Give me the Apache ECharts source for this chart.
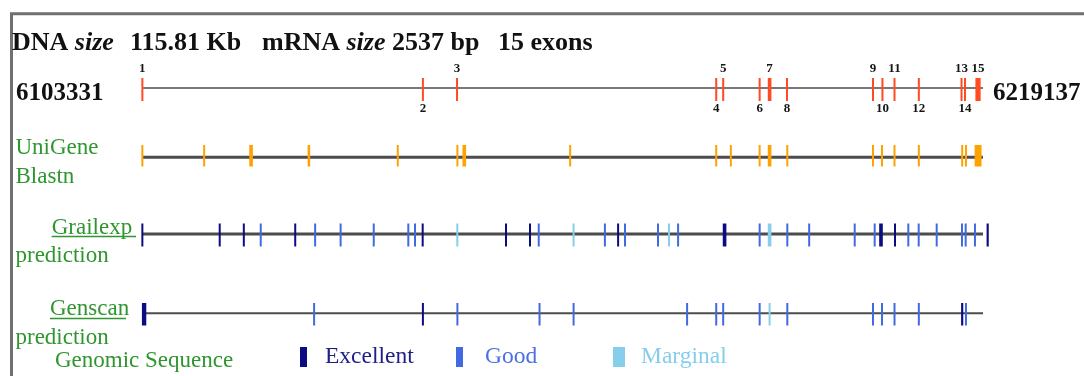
<!DOCTYPE html>
<html><head><meta charset="utf-8">
<script src="https://cdn.jsdelivr.net/npm/echarts@6/dist/echarts.min.js"></script>
<style>html,body{margin:0;padding:0;background:#fff;overflow:hidden}#c{width:1084px;height:376px}</style>
</head><body><div id="c"></div>
<script>
// ---- data (positions in kb from gene start, lengths in kb) ----
const geneStart = 6103331;
const geneEnd = 6219137;
const mrnaSizeBp = 2537;

const exonPos = [0.05, 38.68, 43.38, 79.07, 80.03, 85.05, 86.42, 88.82, 100.66, 101.96, 103.62, 106.97, 112.85, 113.33, 115.12];
const exonLen = [0.15, 0.15, 0.15, 0.15, 0.15, 0.15, 0.5, 0.15, 0.15, 0.15, 0.15, 0.15, 0.15, 0.15, 0.72];

const unigenePos = [0.05, 8.56, 15.02, 22.98, 35.22, 43.43, 44.38, 58.96, 79.07, 81.08, 85.05, 86.42, 88.86, 100.66, 101.90, 103.62, 106.97, 112.94, 113.46, 115.13];
const unigeneLen = [0.15, 0.15, 0.5, 0.35, 0.15, 0.15, 0.5, 0.15, 0.15, 0.15, 0.15, 0.5, 0.15, 0.15, 0.15, 0.15, 0.15, 0.15, 0.15, 0.95];

const grailPos = [0.05, 10.70, 14.02, 16.35, 21.10, 23.84, 27.35, 31.91, 36.67, 37.59, 38.65, 43.42, 50.12, 53.43, 54.63, 59.43, 63.74, 65.56, 66.51, 71.05, 72.57, 73.82, 80.22, 85.05, 86.42, 88.86, 91.87, 98.14, 100.89, 101.76, 103.69, 105.52, 106.95, 109.43, 112.91, 113.42, 114.70, 116.45];
const grailLen = [0.2, 0.15, 0.15, 0.15, 0.15, 0.15, 0.15, 0.15, 0.15, 0.15, 0.15, 0.15, 0.15, 0.15, 0.15, 0.15, 0.15, 0.15, 0.15, 0.15, 0.15, 0.15, 0.5, 0.15, 0.5, 0.15, 0.15, 0.15, 0.15, 0.5, 0.15, 0.15, 0.15, 0.15, 0.15, 0.15, 0.15, 0.3];
const grailQual = ['E','E','E','G','E','G','G','G','G','G','E','M','E','E','G','M','G','E','G','G','M','G','E','G','M','G','G','G','G','E','E','G','G','G','G','G','G','E'];

const genscanPos = [0.29, 23.70, 38.68, 43.43, 54.74, 59.43, 75.06, 79.07, 80.03, 85.05, 86.42, 88.86, 100.66, 101.90, 103.62, 106.97, 112.94, 113.46];
const genscanLen = [0.6, 0.15, 0.15, 0.15, 0.15, 0.15, 0.15, 0.15, 0.15, 0.15, 0.15, 0.15, 0.15, 0.15, 0.15, 0.15, 0.3, 0.15];
const genscanQual = ['E','G','E','G','G','G','G','G','G','G','M','G','G','G','G','G','E','G'];

const qualityCodes = ['E', 'G', 'M'];
const qualityNames = ['Excellent', 'Good', 'Marginal'];

// ---- styles ----
const SERIF = "'Liberation Serif', 'Times New Roman', serif";
const GREEN = '#2f962f';
const qualityColors = { E: '#0c0c82', G: '#4169e1', M: '#87ceeb' };
const qualityTextColors = { E: '#1e1e86', G: '#4a6fe2', M: '#86cdec' };
const EXON_COLOR = '#ff4a22';
const UNIGENE_COLOR = '#ffa200';
const LINE_COLOR = '#4c4c4c';

const totalKb = (geneEnd - geneStart) / 1000;

// track rows: tick top, tick height, line position (fraction from bottom), line width
const rows = [
  { top: 78, height: 23, lineFrac: 0.565, lw: 1.6 },
  { top: 145, height: 21.5, lineFrac: 0.43, lw: 3 },
  { top: 223.5, height: 23, lineFrac: 0.54, lw: 3 },
  { top: 303, height: 22.5, lineFrac: 0.54, lw: 2 }
];

const grids = rows.map(r => ({ left: 142, right: 101, top: r.top, height: r.height }));
const xAxes = rows.map((r, i) => ({ type: 'value', gridIndex: i, min: 0, max: totalKb, show: false }));
const yAxes = rows.map((r, i) => ({ type: 'value', gridIndex: i, min: 0, max: 1, show: false }));

function tickRect(api, minW) {
  const c = api.value(0), len = api.value(1);
  const a = api.coord([c - len / 2, 1]);
  const b = api.coord([c + len / 2, 0]);
  const w = Math.max(b[0] - a[0], minW);
  const cx = (a[0] + b[0]) / 2;
  return { x: cx - w / 2, y: a[1], width: w, height: b[1] - a[1], cx: cx, top: a[1], bottom: b[1] };
}

function tickRender(params, api) {
  const r = tickRect(api, 2);
  return { type: 'rect', shape: { x: r.x, y: r.y, width: r.width, height: r.height }, style: { fill: api.visual('color') } };
}

function exonRender(params, api) {
  const r = tickRect(api, 2);
  const num = api.value(2);
  const above = num % 2 === 1;
  return {
    type: 'group',
    children: [
      { type: 'rect', shape: { x: r.x, y: r.y, width: r.width, height: r.height }, style: { fill: api.visual('color') } },
      { type: 'text', x: r.cx, y: above ? r.top - 9 : r.bottom + 8,
        style: { text: String(num), align: 'center', verticalAlign: 'middle', fontFamily: SERIF, fontWeight: 'bold', fontSize: 13, fill: '#151515' } }
    ]
  };
}

function backbone(i) {
  return {
    type: 'line', xAxisIndex: i, yAxisIndex: i, silent: true, symbol: 'none', z: 1,
    data: [[0, rows[i].lineFrac], [totalKb, rows[i].lineFrac]],
    lineStyle: { color: LINE_COLOR, width: rows[i].lw }
  };
}

const series = [];
for (let i = 0; i < 4; i++) series.push(backbone(i));

series.push({
  type: 'custom', name: 'Exons', xAxisIndex: 0, yAxisIndex: 0, z: 3,
  itemStyle: { color: EXON_COLOR }, renderItem: exonRender,
  data: exonPos.map((p, k) => [p, exonLen[k], k + 1])
});
series.push({
  type: 'custom', name: 'UniGene Blastn', xAxisIndex: 1, yAxisIndex: 1, z: 3,
  itemStyle: { color: UNIGENE_COLOR }, renderItem: tickRender,
  data: unigenePos.map((p, k) => [p, unigeneLen[k]])
});

function qualitySeries(pos, len, qual, gi) {
  qualityCodes.forEach((code, qi) => {
    series.push({
      type: 'custom', name: qualityNames[qi], xAxisIndex: gi, yAxisIndex: gi, z: 3,
      itemStyle: { color: qualityColors[code] }, renderItem: tickRender,
      data: pos.map((p, k) => [p, len[k], qual[k]]).filter(d => d[2] === code).map(d => [d[0], d[1]])
    });
  });
}
qualitySeries(grailPos, grailLen, grailQual, 2);
qualitySeries(genscanPos, genscanLen, genscanQual, 3);

const legendLeft = [300, 456, 613];
const legendW = [7, 7, 12];
const legendPad = [13, 17, 11];
const legends = qualityNames.map((n, qi) => ({
  data: [n], left: legendLeft[qi], top: 345, icon: 'rect', selectedMode: false,
  itemWidth: legendW[qi], itemHeight: 20, padding: 0,
  textStyle: { color: qualityTextColors[qualityCodes[qi]], fontFamily: SERIF, fontSize: 23.5, padding: [0, 0, 0, legendPad[qi]] }
}));

function txt(x, y, text, extra) {
  return { type: 'text', x: x, y: y, silent: true,
    style: Object.assign({ text: text, align: 'left', verticalAlign: 'middle', fontFamily: SERIF, fontSize: 23, fill: GREEN }, extra || {}) };
}

const dnaKb = ((geneEnd - geneStart) / 1000).toFixed(2);
const titleRich = {
  b: { fontFamily: SERIF, fontWeight: 'bold', fontSize: 26, fill: '#111' },
  i: { fontFamily: SERIF, fontWeight: 'bold', fontStyle: 'italic', fontSize: 26, fill: '#111' }
};
function titleTxt(x, text) {
  return { type: 'text', x: x, y: 43.5, silent: true,
    style: { text: text, align: 'left', verticalAlign: 'middle', rich: titleRich } };
}

const graphic = [
  { type: 'polyline', silent: true, shape: { points: [[11.5, 400], [11.5, 13.8], [1100, 13.8]] }, style: { stroke: '#707070', lineWidth: 3, fill: null } },
  titleTxt(12, '{b|DNA }{i|size}'),
  titleTxt(130, '{b|' + dnaKb + ' Kb}'),
  titleTxt(262, '{b|mRNA }{i|size}{b| ' + mrnaSizeBp + ' bp}'),
  titleTxt(498, '{b|' + exonPos.length + ' exons}'),
  txt(16, 93.5, String(geneStart), { fontWeight: 'bold', fontSize: 25, fill: '#111' }),
  txt(993, 93.5, String(geneEnd), { fontWeight: 'bold', fontSize: 25, fill: '#111' }),
  txt(15.5, 148, 'UniGene'),
  txt(15.5, 177, 'Blastn'),
  txt(51.7, 227.5, 'Grailexp'),
  { type: 'line', silent: true, shape: { x1: 51.7, y1: 236.5, x2: 136, y2: 236.5 }, style: { stroke: GREEN, lineWidth: 1.5 } },
  txt(15.5, 256, 'prediction'),
  txt(50, 308.5, 'Genscan'),
  { type: 'line', silent: true, shape: { x1: 50, y1: 318.5, x2: 126, y2: 318.5 }, style: { stroke: GREEN, lineWidth: 1.5 } },
  txt(15.5, 337.5, 'prediction'),
  txt(55, 361, 'Genomic Sequence')
];

const chart = echarts.init(document.getElementById('c'), null, { renderer: 'canvas' });
chart.setOption({
  animation: false,
  backgroundColor: '#fff',
  grid: grids, xAxis: xAxes, yAxis: yAxes,
  legend: legends,
  series: series,
  graphic: graphic
});
</script>
</body></html>
